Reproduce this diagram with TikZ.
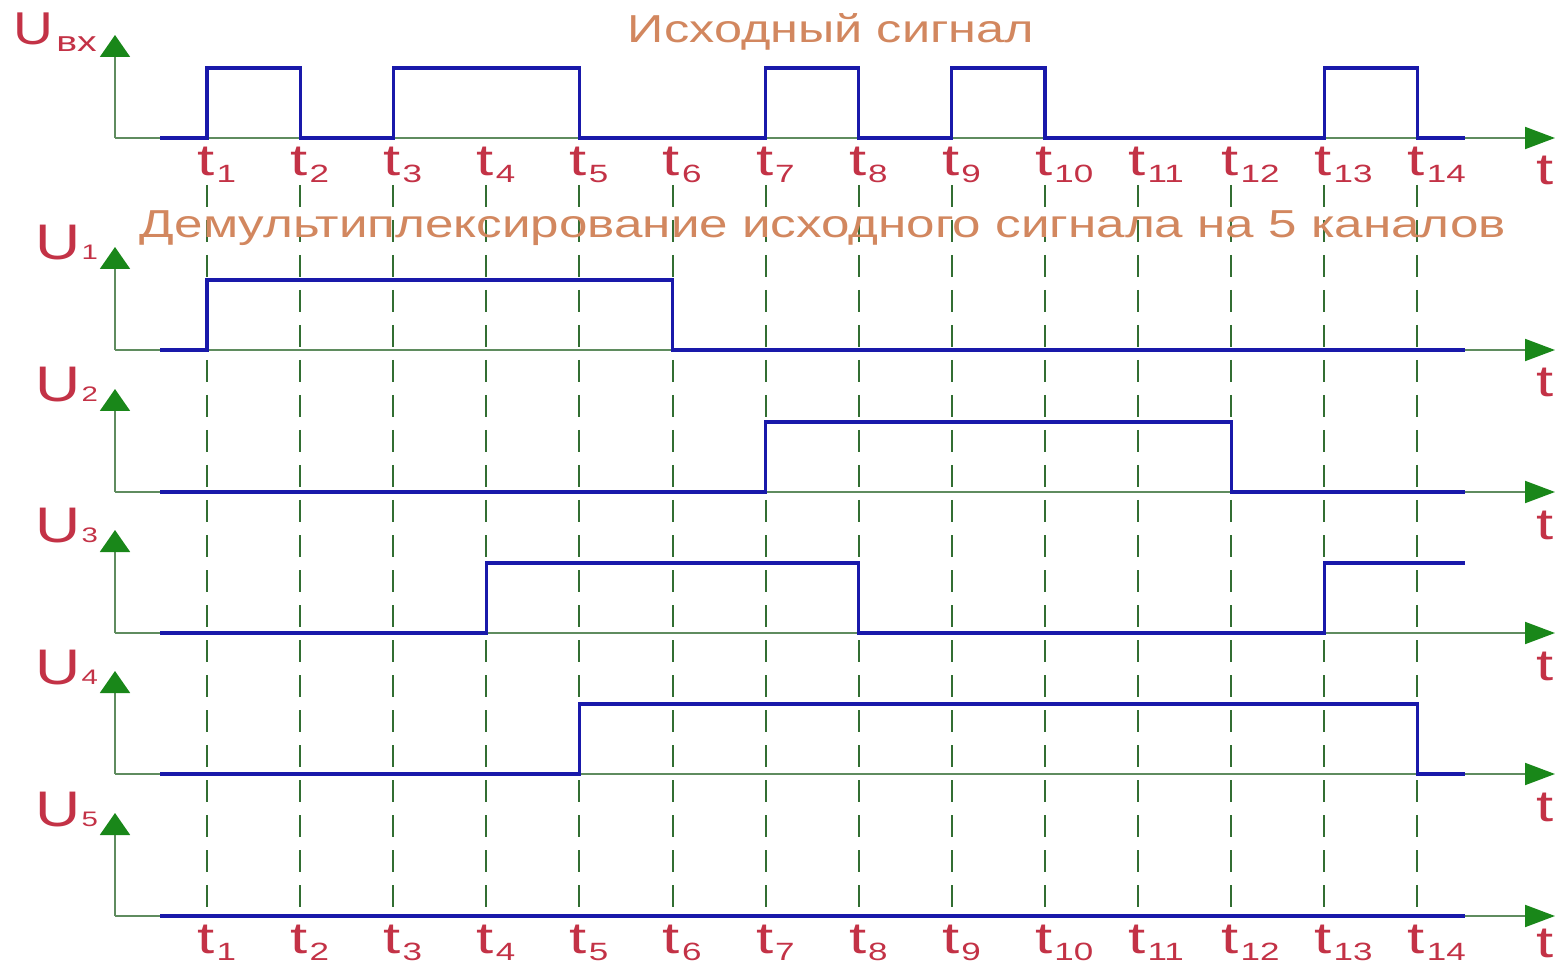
\documentclass[tikz,border=0pt]{standalone}
\usepackage{fontspec}
\setmainfont{Liberation Sans}
\usetikzlibrary{arrows.meta}
\definecolor{sigblue}{RGB}{25,25,170}
\definecolor{axgreen}{RGB}{95,140,95}
\definecolor{tipgreen}{RGB}{25,135,25}
\definecolor{gridgreen}{RGB}{50,110,50}
\definecolor{labred}{RGB}{195,50,70}
\definecolor{ttlorange}{RGB}{210,135,95}
\newcommand\tlabel[1]{\scalebox{1.4}[1]{\fontsize{22pt}{24pt}\selectfont t}\hspace{1pt}\raisebox{-3.5pt}{\scalebox{1.4}[1]{\fontsize{12.5pt}{14pt}\selectfont #1}}}
\newcommand\tbig{\scalebox{1.4}[1]{\fontsize{22pt}{24pt}\selectfont t}}
\newcommand\ulabel[1]{\scalebox{1.25}[1]{\fontsize{25pt}{27pt}\selectfont U}\hspace{0.5pt}\scalebox{1.4}[1]{\fontsize{10.5pt}{12pt}\selectfont #1}}
\newcommand\uinlabel{\scalebox{1.2}[1]{\fontsize{23pt}{25pt}\selectfont U}\hspace{1.5pt}\raisebox{-3.5pt}{\scalebox{1.4}[1]{\fontsize{14pt}{16pt}\selectfont вх}}}
\begin{document}
\begin{tikzpicture}[x=0.5pt,y=-0.5pt,
  signal/.style={draw=sigblue,line width=1.6pt,line join=miter},
  axisline/.style={draw=axgreen,line width=1pt},
  haxis/.style={axisline,-{Triangle[length=15pt,width=11pt,color=tipgreen]}},
  vaxis/.style={axisline,-{Triangle[length=11pt,width=15pt,color=tipgreen]}},
  guide/.style={draw=gridgreen,line width=1pt,dash pattern=on 11pt off 6.5pt},
  redlabel/.style={text=labred,inner sep=0pt},
  titletext/.style={text=ttlorange,inner sep=0pt,font=\fontsize{19.5pt}{22pt}\selectfont}]
\useasboundingbox (0,0) rectangle (1560,968);
% coordinates
\foreach \k/\y in {0/138,1/350,2/492,3/633,4/774,5/916}{
  \coordinate (R\k) at (0,\y);
  \coordinate (H\k) at (0,\y-70);
  \coordinate (A\k) at (115,\y);
  \coordinate (V\k) at (115,\y-103);
  \coordinate (X\k) at (1555,\y);
}
\foreach \i in {1,...,14}{\coordinate (T\i) at ({207+93.1*(\i-1)},0);}
\coordinate (S) at (160,0);
\coordinate (E) at (1465,0);
\coordinate (G) at (0,185);
\coordinate (TB) at (0,176);
\coordinate (BB) at (0,953);
% guides
\foreach \i in {1,...,14}{\draw[guide] (T\i|-G) -- (T\i|-R5);}
% axes
\foreach \k in {0,...,5}{
  \draw[haxis] (A\k) -- (X\k);
  \draw[vaxis] (A\k) -- (V\k);
}
% signals
\draw[signal] (S|-R0) -- (T1|-R0) -- (T1|-H0) -- (T2|-H0) -- (T2|-R0) -- (T3|-R0) -- (T3|-H0) -- (T5|-H0) -- (T5|-R0) -- (T7|-R0) -- (T7|-H0) -- (T8|-H0) -- (T8|-R0) -- (T9|-R0) -- (T9|-H0) -- (T10|-H0) -- (T10|-R0) -- (T13|-R0) -- (T13|-H0) -- (T14|-H0) -- (T14|-R0) -- (E|-R0);
\draw[signal] (S|-R1) -- (T1|-R1) -- (T1|-H1) -- (T6|-H1) -- (T6|-R1) -- (E|-R1);
\draw[signal] (S|-R2) -- (T7|-R2) -- (T7|-H2) -- (T12|-H2) -- (T12|-R2) -- (E|-R2);
\draw[signal] (S|-R3) -- (T4|-R3) -- (T4|-H3) -- (T8|-H3) -- (T8|-R3) -- (T13|-R3) -- (T13|-H3) -- (E|-H3);
\draw[signal] (S|-R4) -- (T5|-R4) -- (T5|-H4) -- (T14|-H4) -- (T14|-R4) -- (E|-R4);
\draw[signal] (S|-R5) -- (E|-R5);
% time labels
\foreach \i in {1,...,14}{
  \node[redlabel,anchor=base west,xshift=-5pt] (tt\i) at (T\i|-TB) {\tlabel{\i}};
  \node[redlabel,anchor=base west,xshift=-5pt] (tb\i) at (T\i|-BB) {\tlabel{\i}};
}
\foreach \k/\y in {0/138,1/350,2/492,3/633,4/774}{
  \node[redlabel,anchor=base] (tr\k) at (1545,\y+47) {\tbig};
}
\node[redlabel,anchor=base] (tr5) at (1545,957) {\tbig};
% U labels
\node[redlabel,anchor=base west] (u0) at (13,45) {\uinlabel};
\foreach \k/\y in {1/350,2/492,3/633,4/774,5/916}{
  \node[redlabel,anchor=base west] (u\k) at (35,\y-90) {\ulabel{\k}};
}
% titles
\node[titletext,anchor=base] (title1) at (831,43) {\resizebox{203pt}{\height}{Исходный сигнал}};
\node[titletext,anchor=base] (title2) at (823,238) {\resizebox{683pt}{\height}{Демультиплексирование исходного сигнала на 5 каналов}};
\end{tikzpicture}
\end{document}
